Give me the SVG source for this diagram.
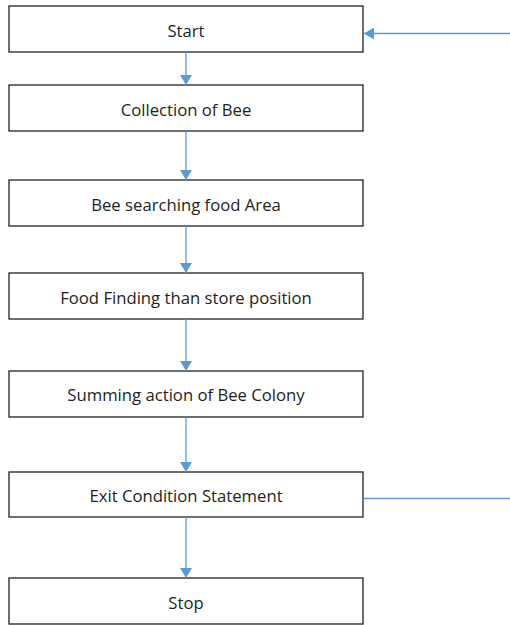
<svg xmlns="http://www.w3.org/2000/svg" width="510" height="625" viewBox="0 0 510 625">
<style>
.box{fill:#fff;stroke:#231f20;stroke-width:1.3}
.lbl{font-family:"Open Sans","Liberation Sans",sans-serif;font-size:16.7px;fill:#231f20;text-anchor:middle}
.con{stroke:#5b9bd5;stroke-width:1.3;fill:none}
</style>
<defs>
<marker id="ah" viewBox="0 0 10 12" refX="10" refY="6" markerWidth="10" markerHeight="12" markerUnits="userSpaceOnUse" orient="auto">
<path d="M0,0 L10,6 L0,12 Z" fill="#5b9bd5"/>
</marker>
</defs>
<g id="start"><rect class="box" x="9" y="6" width="354" height="46"/><text class="lbl" x="186" y="37">Start</text></g>
<g id="collection"><rect class="box" x="9" y="85" width="354" height="46"/><text class="lbl" x="186" y="115.5">Collection of Bee</text></g>
<g id="searching"><rect class="box" x="9" y="180" width="354" height="46"/><text class="lbl" x="186" y="210.5">Bee searching food Area</text></g>
<g id="finding"><rect class="box" x="9" y="273" width="354" height="46"/><text class="lbl" x="186" y="303.5">Food Finding than store position</text></g>
<g id="summing"><rect class="box" x="9" y="371" width="354" height="46"/><text class="lbl" x="186" y="401">Summing action of Bee Colony</text></g>
<g id="exit"><rect class="box" x="9" y="472" width="354" height="45"/><text class="lbl" x="186" y="501.5">Exit Condition Statement</text></g>
<g id="stop"><rect class="box" x="9" y="578" width="354" height="46"/><text class="lbl" x="186" y="609">Stop</text></g>
<g id="connectors">
<line class="con" x1="186" y1="52" x2="186" y2="85" marker-end="url(#ah)"/>
<line class="con" x1="186" y1="131" x2="186" y2="180" marker-end="url(#ah)"/>
<line class="con" x1="186" y1="226" x2="186" y2="273" marker-end="url(#ah)"/>
<line class="con" x1="186" y1="319" x2="186" y2="371" marker-end="url(#ah)"/>
<line class="con" x1="186" y1="417" x2="186" y2="472" marker-end="url(#ah)"/>
<line class="con" x1="186" y1="517" x2="186" y2="578" marker-end="url(#ah)"/>
<line class="con" x1="510" y1="33.5" x2="364" y2="33.5" marker-end="url(#ah)"/>
<line class="con" x1="363" y1="498.5" x2="510" y2="498.5"/>
</g>
</svg>
